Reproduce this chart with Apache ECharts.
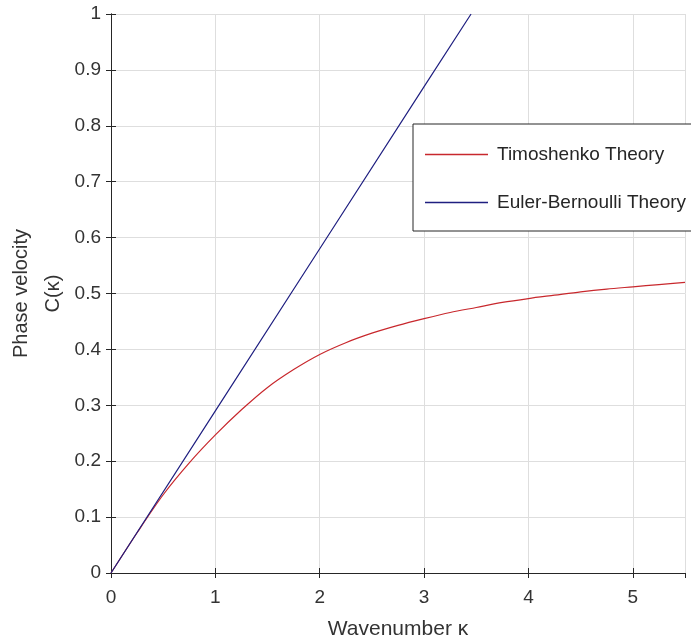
<!DOCTYPE html>
<html>
<head>
<meta charset="utf-8">
<script src="https://cdn.jsdelivr.net/npm/echarts@6/dist/echarts.min.js"></script>
<style>html,body{margin:0;padding:0;background:#fff;}#c{width:691px;height:644px;}</style>
</head>
<body>
<div id="c"></div>
<script>
// Wavenumber samples (x) and phase velocities
const kValues = [0, 0.25, 0.5, 0.75, 1.0, 1.25, 1.5, 1.75, 2.0, 2.25, 2.5, 2.75, 3.0, 3.25, 3.5, 3.75, 4.0, 4.25, 4.5, 4.75, 5.0, 5.25, 5.5];
const timoshenko = [0, 0.072, 0.14, 0.197, 0.247, 0.292, 0.332, 0.364, 0.391, 0.412, 0.429, 0.443, 0.455, 0.466, 0.475, 0.484, 0.491, 0.497, 0.503, 0.508, 0.512, 0.516, 0.52];
const ebK = [0, 1, 2, 3, 3.45];
const eulerBernoulli = [0, 0.29, 0.58, 0.87, 1.0];
const seriesNames = ['Timoshenko Theory', 'Euler-Bernoulli Theory'];
const xTitle = 'Wavenumber κ';
const yTitle = 'Phase velocity\nC(κ)';

const axisColor = '#262626';
const textColor = '#333333';
const font = 'Liberation Sans, Arial, Helvetica, sans-serif';

const chart = echarts.init(document.getElementById('c'), null, {renderer: 'canvas'});
chart.setOption({
  animation: false,
  backgroundColor: '#ffffff',
  grid: {left: 111, top: 14, right: 6, bottom: 71, containLabel: false, outerBoundsMode: 'none'},
  legend: {
    orient: 'vertical',
    left: 413, top: 124,
    data: seriesNames,
    icon: 'rect',
    backgroundColor: '#ffffff',
    borderColor: '#262626',
    borderWidth: 1,
    padding: [21, 40, 19, 12],
    itemGap: 29,
    itemWidth: 63,
    itemHeight: 1.3,
    textStyle: {fontFamily: font, fontSize: 19, color: '#262626', padding: [0, 0, 0, 4], height: 19, lineHeight: 19}
  },
  xAxis: [{
    type: 'value', min: 0, max: 5.5, interval: 1,
    name: xTitle, nameLocation: 'middle', nameGap: 46,
    nameTextStyle: {fontFamily: font, fontSize: 21, color: textColor},
    axisLine: {show: true, lineStyle: {color: axisColor, width: 1}},
    axisTick: {show: true, inside: true, length: 5, lineStyle: {color: axisColor}},
    axisLabel: {fontFamily: font, fontSize: 19, color: textColor, margin: 15, showMaxLabel: false},
    splitLine: {show: true, lineStyle: {color: '#dedede', width: 1}}
  }, {
    type: 'value', min: 0, max: 5.5, interval: 1, position: 'top',
    axisLine: {show: true, lineStyle: {color: axisColor, width: 1}},
    axisTick: {show: true, inside: true, length: 5, lineStyle: {color: axisColor}},
    axisLabel: {show: false}, splitLine: {show: false}
  }],
  yAxis: [{
    type: 'value', min: 0, max: 1, interval: 0.1,
    name: yTitle, nameLocation: 'middle', nameGap: 42, nameRotate: 90, nameMoveOverlap: false,
    nameTextStyle: {fontFamily: font, fontSize: 20, color: textColor, lineHeight: 32},
    axisLine: {show: true, lineStyle: {color: axisColor, width: 1}},
    axisTick: {show: true, inside: true, length: 5, lineStyle: {color: axisColor}},
    axisLabel: {fontFamily: font, fontSize: 19, color: textColor, margin: 10},
    splitLine: {show: true, lineStyle: {color: '#dedede', width: 1}}
  }, {
    type: 'value', min: 0, max: 1, interval: 0.1, position: 'right',
    axisLine: {show: true, lineStyle: {color: axisColor, width: 1}},
    axisTick: {show: true, inside: true, length: 5, lineStyle: {color: axisColor}},
    axisLabel: {show: false}, splitLine: {show: false}
  }],
  series: [{
    name: seriesNames[0], type: 'line', xAxisIndex: 0, yAxisIndex: 0,
    data: kValues.map((k, i) => [k, timoshenko[i]]),
    smooth: 0.3, showSymbol: false, symbol: 'none',
    lineStyle: {color: '#c8282d', width: 1.2}, itemStyle: {color: '#c8282d'}
  }, {
    name: seriesNames[1], type: 'line', xAxisIndex: 0, yAxisIndex: 0,
    data: ebK.map((k, i) => [k, eulerBernoulli[i]]),
    showSymbol: false, symbol: 'none',
    lineStyle: {color: '#1f1f80', width: 1.2}, itemStyle: {color: '#1f1f80'}
  }]
});
</script>
</body>
</html>
